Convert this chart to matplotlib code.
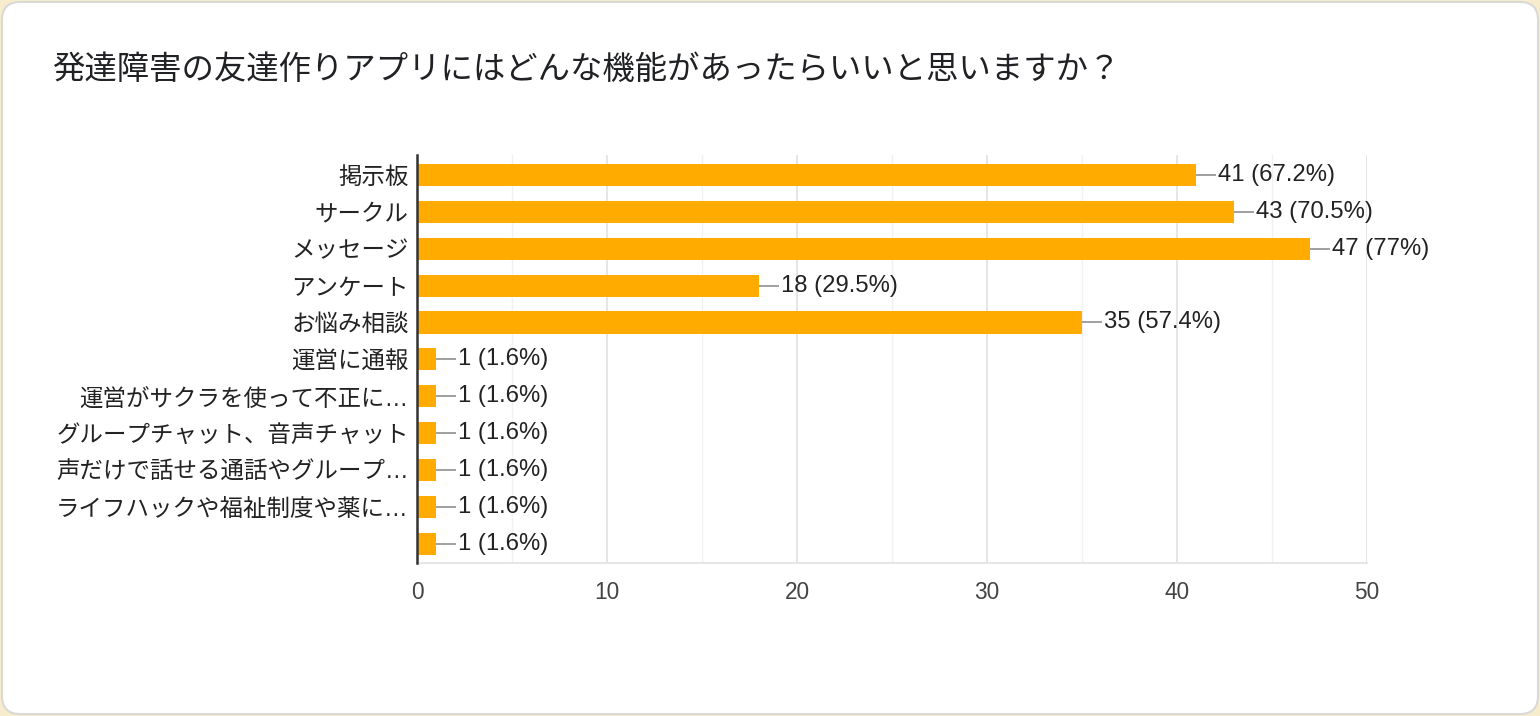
import matplotlib
matplotlib.use("Agg")
import matplotlib.pyplot as plt
from matplotlib.patches import FancyBboxPatch
from matplotlib.ticker import MultipleLocator

title = "発達障害の友達作りアプリにはどんな機能があったらいいと思いますか？"
categories = ["掲示板", "サークル", "メッセージ", "アンケート", "お悩み相談", "運営に通報",
              "運営がサクラを使って不正に…", "グループチャット、音声チャット",
              "声だけで話せる通話やグループ…", "ライフハックや福祉制度や薬に…", ""]
counts = [41, 43, 47, 18, 35, 1, 1, 1, 1, 1, 1]
percents = ["67.2%", "70.5%", "77%", "29.5%", "57.4%", "1.6%", "1.6%", "1.6%", "1.6%", "1.6%", "1.6%"]
x_ticks = [0, 10, 20, 30, 40, 50]

JP = ["Noto Sans CJK JP", "DejaVu Sans"]
JPL = ["Liberation Sans", "Noto Sans CJK JP", "DejaVu Sans"]
LAT = ["Liberation Sans", "DejaVu Sans"]

fig = plt.figure(figsize=(15.4, 7.16), dpi=100)
fig.patch.set_facecolor("#f7edcc")
card = FancyBboxPatch((2, 2), 1536, 712, boxstyle="round,pad=0,rounding_size=18",
                      transform=None, facecolor="white", edgecolor="#d9d9d9", linewidth=1.5,
                      zorder=-10)
fig.patches.append(card)

fig.text(52 / 1540, 1 - 70 / 716, title, family=JP, fontsize=23.3, color="#202124",
         ha="left", va="center")

ax = fig.add_axes([417 / 1540, 1 - 563 / 716, 950 / 1540, 408 / 716])
ax.set_facecolor("none")
y = list(range(len(categories)))
ax.barh(y, counts, height=0.6, color="#ffab00", zorder=3)
ax.set_xlim(0, 50)
ax.set_ylim(len(categories) - 0.48, -0.54)

ax.xaxis.set_major_locator(MultipleLocator(10))
ax.xaxis.set_minor_locator(MultipleLocator(5))
ax.grid(which="major", axis="x", color="#e4e4e4", linewidth=1.3, zorder=0)
ax.grid(which="minor", axis="x", color="#f1f1f1", linewidth=1.0, zorder=0)
ax.set_xticks(x_ticks)
ax.set_xticklabels([str(t) for t in x_ticks], family=LAT, fontsize=16.3, color="#444444")
ax.set_yticks(y)
ax.set_yticklabels(categories, family=JPL, fontsize=16.9, color="#222222")
ax.tick_params(axis="both", which="both", length=0)
ax.tick_params(axis="x", pad=13)
ax.tick_params(axis="y", pad=6)

for s in ["top", "right"]:
    ax.spines[s].set_visible(False)
ax.spines["bottom"].set_color("#e4e4e4")
ax.spines["bottom"].set_linewidth(1.3)
ax.spines["left"].set_color("#333333")
ax.spines["left"].set_linewidth(1.8)
ax.spines["left"].set_zorder(5)

for yi, c, p in zip(y, counts, percents):
    ax.plot([c, c + 1.05], [yi, yi], color="#999999", linewidth=1.3, zorder=4,
            solid_capstyle="butt")
    ax.text(c + 1.15, yi, f"{c} ({p})", family=LAT, fontsize=17.2, color="#222222",
            ha="left", va="center", zorder=4)

fig.savefig("out.png", dpi=100, facecolor=fig.get_facecolor())
